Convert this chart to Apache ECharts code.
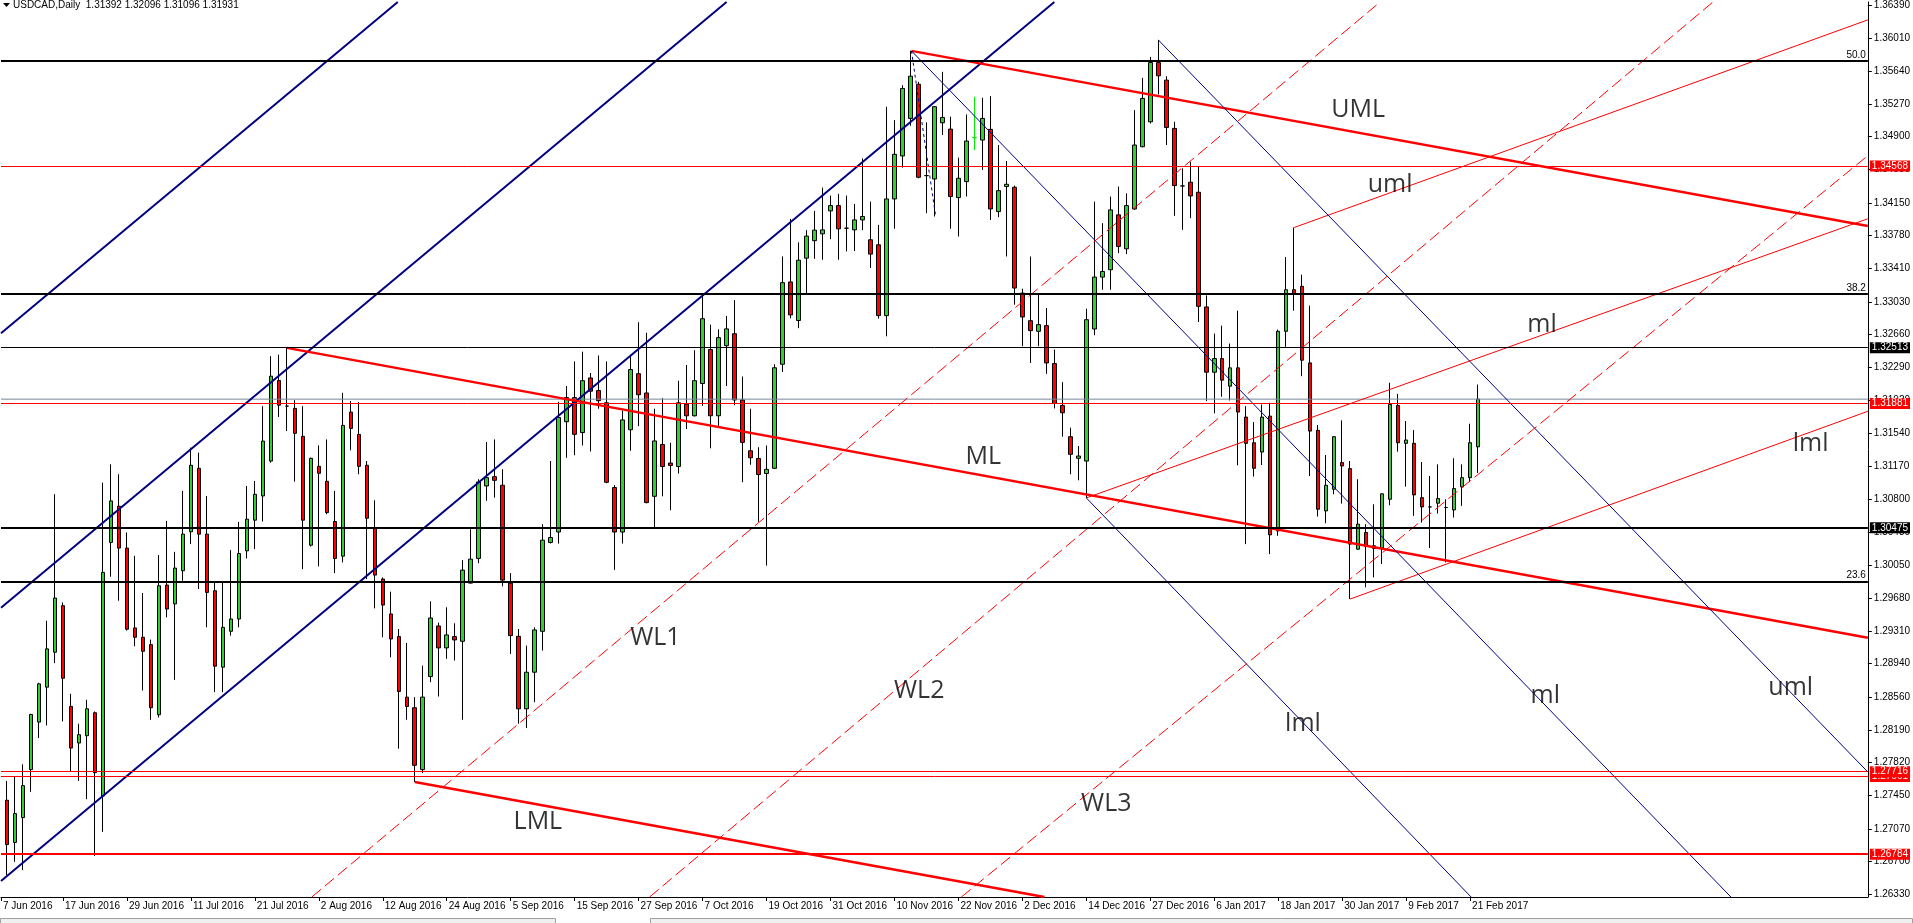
<!DOCTYPE html>
<html>
<head>
<meta charset="utf-8">
<title>USDCAD,Daily</title>
<script src="https://cdn.jsdelivr.net/npm/echarts@6/dist/echarts.min.js"></script>
<style>
  html, body { margin: 0; padding: 0; background: #fff; }
  #chart { width: 1913px; height: 923px; }
</style>
</head>
<body>
<div id="chart"></div>
<script>
// 日K线 [开, 高, 低, 收]，第 0 根 = 7 Jun 2016，每天一根
const candles = [
  [1.2818, 1.2830, 1.2725, 1.2739],
  [1.27394, 1.27612, 1.26547, 1.26893], [1.26916, 1.27657, 1.26697, 1.27243], [1.27198, 1.27800, 1.26603, 1.27559],
  [1.27740, 1.28372, 1.27488, 1.28364], [1.28278, 1.28722, 1.28097, 1.28710], [1.28673, 1.29425, 1.28240, 1.29106],
  [1.29068, 1.30855, 1.28944, 1.29681], [1.29595, 1.29632, 1.28285, 1.28774], [1.28455, 1.28598, 1.27713, 1.27984],
  [1.28041, 1.28259, 1.27612, 1.28135], [1.28124, 1.28530, 1.27405, 1.28428], [1.28383, 1.28398, 1.26765, 1.27706],
  [1.27442, 1.30987, 1.27036, 1.29971], [1.30310, 1.31194, 1.29922, 1.30780], [1.30720, 1.31081, 1.29651, 1.30246],
  [1.30246, 1.30423, 1.29313, 1.29328], [1.29343, 1.30159, 1.29136, 1.29237], [1.29237, 1.29738, 1.28635, 1.29079],
  [1.29154, 1.29211, 1.28304, 1.28440], [1.28361, 1.30167, 1.28330, 1.29820], [1.29828, 1.30554, 1.29463, 1.29557],
  [1.29614, 1.30204, 1.28756, 1.30020], [1.29990, 1.30893, 1.29877, 1.30404], [1.30430, 1.31382, 1.30291, 1.31183],
  [1.31149, 1.31326, 1.29783, 1.30404], [1.30404, 1.30836, 1.29350, 1.29745], [1.29764, 1.29858, 1.28616, 1.28910],
  [1.28899, 1.29858, 1.28616, 1.29350], [1.29305, 1.30223, 1.29256, 1.29444], [1.29444, 1.30543, 1.29350, 1.30185],
  [1.30215, 1.30949, 1.30129, 1.30573], [1.30562, 1.31006, 1.30234, 1.30855], [1.30836, 1.31852, 1.30547, 1.31457],
  [1.31231, 1.32417, 1.31212, 1.32191], [1.32142, 1.32435, 1.31728, 1.31863], [1.31852, 1.32511, 1.31570, 1.31852],
  [1.31826, 1.31920, 1.30998, 1.31544], [1.31510, 1.31852, 1.30008, 1.30562], [1.30279, 1.31269, 1.30264, 1.31262],
  [1.31171, 1.31408, 1.30039, 1.31092], [1.31002, 1.31476, 1.30629, 1.30648], [1.30547, 1.30893, 1.29963, 1.30129],
  [1.30155, 1.32003, 1.30084, 1.31634], [1.31785, 1.31909, 1.31352, 1.31600], [1.31532, 1.31897, 1.31081, 1.31171],
  [1.31183, 1.31231, 1.29896, 1.30584], [1.30468, 1.30787, 1.29564, 1.29941], [1.29896, 1.29914, 1.29237, 1.29602],
  [1.29501, 1.29753, 1.29011, 1.29218], [1.29245, 1.29331, 1.27977, 1.28624], [1.28560, 1.29173, 1.28304, 1.28454],
  [1.28440, 1.28560, 1.27600, 1.27789], [1.27740, 1.28917, 1.27702, 1.28560], [1.28793, 1.29644, 1.28729, 1.29455],
  [1.29365, 1.29403, 1.28567, 1.29117], [1.29117, 1.29576, 1.28993, 1.29264], [1.29245, 1.29395, 1.28974, 1.29207],
  [1.29192, 1.30110, 1.28304, 1.29997], [1.29850, 1.30460, 1.29847, 1.30121], [1.30129, 1.31025, 1.30076, 1.30994],
  [1.30949, 1.31446, 1.30780, 1.31043], [1.31054, 1.31476, 1.30817, 1.31013], [1.30957, 1.31137, 1.29813, 1.29884],
  [1.29850, 1.29963, 1.29049, 1.29256], [1.29248, 1.29331, 1.28259, 1.28428], [1.28428, 1.29143, 1.28210, 1.28842],
  [1.28842, 1.29350, 1.28503, 1.29320], [1.29305, 1.30516, 1.29087, 1.30336], [1.30310, 1.31231, 1.30298, 1.30366],
  [1.30428, 1.31902, 1.30297, 1.31724], [1.31676, 1.32080, 1.31268, 1.31949], [1.31949, 1.32358, 1.31296, 1.31533],
  [1.31553, 1.32468, 1.31407, 1.32140], [1.32171, 1.32227, 1.31339, 1.32021], [1.32029, 1.32425, 1.31823, 1.31914],
  [1.31890, 1.32358, 1.30980, 1.30991], [1.30931, 1.30959, 1.30000, 1.30428], [1.30428, 1.31803, 1.30297, 1.31696],
  [1.31585, 1.32417, 1.31347, 1.32266], [1.32219, 1.32801, 1.31625, 1.31981], [1.32001, 1.32682, 1.30753, 1.30761],
  [1.30832, 1.31823, 1.30476, 1.31458], [1.31418, 1.31941, 1.30832, 1.31169], [1.31208, 1.31438, 1.30674, 1.31181],
  [1.31169, 1.32140, 1.31090, 1.31890], [1.31874, 1.32318, 1.31593, 1.31743], [1.31743, 1.32484, 1.31735, 1.32140],
  [1.32108, 1.33118, 1.31854, 1.32841], [1.32492, 1.32774, 1.31375, 1.31743], [1.31743, 1.32722, 1.31625, 1.32627],
  [1.32536, 1.32873, 1.32080, 1.32726], [1.32671, 1.33051, 1.31862, 1.31922], [1.31922, 1.32187, 1.30991, 1.31442],
  [1.31347, 1.31823, 1.31189, 1.31268], [1.31260, 1.31387, 1.30543, 1.31078], [1.31090, 1.31407, 1.30048, 1.31137],
  [1.31149, 1.32326, 1.31140, 1.32286], [1.32326, 1.33546, 1.32239, 1.33249], [1.33257, 1.33970, 1.32845, 1.32884],
  [1.32821, 1.33705, 1.32734, 1.33503], [1.33526, 1.33843, 1.33130, 1.33776], [1.33724, 1.34061, 1.33518, 1.33843],
  [1.33801, 1.34324, 1.33508, 1.33846], [1.34061, 1.34234, 1.33741, 1.34121], [1.34121, 1.34253, 1.33508, 1.33858],
  [1.33865, 1.34234, 1.33602, 1.33865], [1.33846, 1.34140, 1.33606, 1.33959], [1.33959, 1.34655, 1.33843, 1.33997],
  [1.33734, 1.34166, 1.33414, 1.33572], [1.33677, 1.33903, 1.32842, 1.32876], [1.32876, 1.35239, 1.32642, 1.34196],
  [1.34196, 1.35088, 1.33858, 1.34701], [1.34682, 1.35483, 1.34550, 1.35446], [1.35107, 1.35871, 1.35024, 1.35585],
  [1.35494, 1.35521, 1.34430, 1.34441], [1.34460, 1.35062, 1.34035, 1.34460], [1.34422, 1.35246, 1.33997, 1.35240],
  [1.35058, 1.35634, 1.34919, 1.35118], [1.34986, 1.35126, 1.33858, 1.34223], [1.34211, 1.34663, 1.33771, 1.34430],
  [1.34392, 1.35152, 1.34223, 1.34851], [1.34889, 1.35352, 1.34749, 1.34889], [1.34862, 1.35340, 1.34524, 1.35107],
  [1.34983, 1.35359, 1.33959, 1.34083], [1.34053, 1.34806, 1.33990, 1.34290], [1.34336, 1.34625, 1.33545, 1.34362],
  [1.34328, 1.34347, 1.33000, 1.33188], [1.33131, 1.33180, 1.32530, 1.32861], [1.32819, 1.33545, 1.32341, 1.32706],
  [1.32699, 1.33113, 1.32530, 1.32774], [1.32763, 1.32962, 1.32217, 1.32341], [1.32334, 1.32492, 1.31826, 1.31882],
  [1.31860, 1.32123, 1.31506, 1.31777], [1.31506, 1.31608, 1.31081, 1.31307], [1.31262, 1.31401, 1.31013, 1.31288],
  [1.31231, 1.32955, 1.30814, 1.32830], [1.32725, 1.34166, 1.32654, 1.33312], [1.33312, 1.33922, 1.33169, 1.33376],
  [1.33395, 1.34223, 1.33169, 1.34072], [1.34016, 1.34336, 1.33583, 1.33658], [1.33632, 1.34260, 1.33572, 1.34121],
  [1.34083, 1.35201, 1.34072, 1.34806], [1.34787, 1.35566, 1.34780, 1.35333], [1.35069, 1.35803, 1.35050, 1.35739],
  [1.35739, 1.35995, 1.35378, 1.35589], [1.35540, 1.35585, 1.34806, 1.35005], [1.34994, 1.35069, 1.34005, 1.34347],
  [1.34343, 1.34543, 1.33846, 1.34343], [1.34385, 1.34618, 1.33978, 1.34230], [1.34272, 1.34561, 1.32804, 1.32981],
  [1.32974, 1.33105, 1.31909, 1.32236], [1.32236, 1.32673, 1.31770, 1.32390], [1.32390, 1.32763, 1.31958, 1.32146],
  [1.32078, 1.32560, 1.31916, 1.32285], [1.32285, 1.32932, 1.31183, 1.31785], [1.31728, 1.31852, 1.30291, 1.31431],
  [1.31438, 1.31672, 1.31055, 1.31149], [1.31333, 1.31871, 1.31186, 1.31728], [1.31739, 1.31890, 1.30178, 1.30396],
  [1.30441, 1.32718, 1.30385, 1.32699], [1.32699, 1.33538, 1.32522, 1.33169], [1.33169, 1.33873, 1.32932, 1.33120],
  [1.33207, 1.33339, 1.32191, 1.32372], [1.32341, 1.32989, 1.31062, 1.31570], [1.31578, 1.31638, 1.30603, 1.30686],
  [1.30667, 1.31299, 1.30528, 1.30957], [1.30912, 1.31514, 1.30855, 1.31506], [1.31213, 1.31691, 1.30750, 1.31175],
  [1.31145, 1.31231, 1.29670, 1.30291], [1.30234, 1.31025, 1.30227, 1.30517], [1.30423, 1.30517, 1.29802, 1.30264],
  [1.30272, 1.30742, 1.29915, 1.30242], [1.30246, 1.30863, 1.30065, 1.30860], [1.30799, 1.32116, 1.30731, 1.31871],
  [1.31860, 1.31991, 1.31337, 1.31438], [1.31431, 1.31683, 1.30942, 1.31469], [1.31431, 1.31581, 1.30611, 1.30848],
  [1.30817, 1.31220, 1.30535, 1.30712], [1.30712, 1.31062, 1.30246, 1.30712], [1.30754, 1.31194, 1.30637, 1.30806],
  [1.30705, 1.30799, 1.30084, 1.30705], [1.30678, 1.31262, 1.30592, 1.30919], [1.30938, 1.31194, 1.30724, 1.31043],
  [1.31043, 1.31653, 1.30994, 1.31438], [1.31392, 1.32096, 1.31096, 1.31931]
];
const limeBar = 122;   // 这根十字星是亮绿色的

// 底部日期，每 8 根一个
const dateLabels = ['7 Jun 2016', '17 Jun 2016', '29 Jun 2016', '11 Jul 2016', '21 Jul 2016', '2 Aug 2016',
  '12 Aug 2016', '24 Aug 2016', '5 Sep 2016', '15 Sep 2016', '27 Sep 2016', '7 Oct 2016', '19 Oct 2016',
  '31 Oct 2016', '10 Nov 2016', '22 Nov 2016', '2 Dec 2016', '14 Dec 2016', '27 Dec 2016', '6 Jan 2017',
  '18 Jan 2017', '30 Jan 2017', '9 Feb 2017', '21 Feb 2017'];
const labelStep = 8;

// 右侧价格刻度
const priceTicks = [1.36390, 1.36010, 1.35640, 1.35270, 1.34900, 1.34530, 1.34150, 1.33780, 1.33410, 1.33030,
  1.32660, 1.32290, 1.31920, 1.31540, 1.31170, 1.30800, 1.30430, 1.30050, 1.29680, 1.29310, 1.28940, 1.28560,
  1.28190, 1.27820, 1.27450, 1.27070, 1.26700, 1.26330];

// 水平线
const fibLevels = [1.35754, 1.33120, 1.29869];
const fibNames = ['50.0', '38.2', '23.6'];
const redThin = [1.34568, 1.31881, 1.27661, 1.27716];
const redThick = [1.26784];
const blackThin = [1.32513];
const blackThick = [1.30475];

// 斜线：[[K线序号, 价格], [K线序号, 价格]]
const channelLines = [
  [[0.25, 1.32676], [49.875, 1.36424]],
  [[0.25, 1.29572], [91, 1.36424]],
  [[0.25, 1.26479], [132, 1.36424]]
];
const forkRed = [      // ML / UML / LML
  [[36, 1.32511], [233.75, 1.29233]],
  [[114.125, 1.35871], [233.75, 1.33889]],
  [[52, 1.27600], [130.75, 1.26299]]
];
const forkRedSmall = [ // uml / ml / lml
  [[162, 1.33873], [233.75, 1.36222]],
  [[136, 1.30814], [233.75, 1.33972]],
  [[169, 1.29670], [233.75, 1.31794]]
];
const forkBlue = [     // uml / ml / lml
  [[145, 1.35995], [233.75, 1.27713]],
  [[114.125, 1.35871], [216.625, 1.26299]],
  [[136, 1.30814], [184.125, 1.26299]]
];
const warnLines = [    // WL1 / WL2 / WL3
  [[39.125, 1.26299], [172.75, 1.36424]],
  [[81.375, 1.26299], [214.375, 1.36424]],
  [[120.375, 1.26299], [233.75, 1.34686]]
];
const fibDiagonal = [[114.125, 1.35871], [117.125, 1.34020]];

// 文字标注 [文字, K线序号, 价格]
const notes = [
  ['UML', 170, 1.35205], ['uml', 174, 1.34358], ['ml', 193, 1.32767], ['lml', 226.6, 1.31423],
  ['ML', 123.1, 1.31277], ['WL1', 82.1, 1.29233], ['WL2', 115.1, 1.28635], ['WL3', 138.5, 1.27348],
  ['LML', 67.4, 1.27145], ['lml', 163.1, 1.28263], ['ml', 193.4, 1.28579], ['uml', 224.1, 1.28669]
];

const xMin = 0.25, xMax = 233.75;
const yMin = 1.26299, yMax = 1.36424;
const axisFont = 'Liberation Sans, Arial, sans-serif';

let myChart = echarts.init(document.getElementById('chart'));

function seg(points, color, width, type) {
  return {
    type: 'line',
    data: points,
    symbol: 'none',
    silent: true,
    clip: true,
    z: 3,
    lineStyle: { color: color, width: width, type: type || 'solid' }
  };
}

function tag(v, color, width) {
  return {
    yAxis: v,
    lineStyle: { color: color, width: width, type: 'solid' },
    label: {
      show: true, position: 'end', distance: 2, formatter: v.toFixed(5),
      color: '#fff', backgroundColor: color, padding: [1, 2, 0, 2],
      fontSize: 10, fontFamily: axisFont
    }
  };
}

let last = candles[candles.length - 1];
let bid = last[3];

let levelData = [];
fibLevels.forEach((v, k) => {
  levelData.push({
    yAxis: v,
    lineStyle: { color: '#000', width: 2, type: 'solid' },
    label: {
      show: true, position: 'insideEndTop', distance: 1, formatter: fibNames[k],
      color: '#000', fontSize: 10, fontFamily: axisFont, padding: [0, 1, 0, 0]
    }
  });
});
redThin.forEach(v => levelData.push(tag(v, '#ff0000', 1)));
redThick.forEach(v => levelData.push(tag(v, '#ff0000', 2)));
blackThin.forEach(v => levelData.push(tag(v, '#000000', 1)));
blackThick.forEach(v => levelData.push(tag(v, '#000000', 2)));

let kData = candles.map((c, i) => {
  let item = { value: [i, c[0], c[3], c[2], c[1]] };
  if (i === limeBar) {
    item.itemStyle = { borderColor: '#00ee00', borderColor0: '#00ee00', borderColorDoji: '#00ee00' };
  }
  return item;
});

let series = [
  {
    type: 'candlestick',
    data: kData,
    encode: { x: 0, y: [1, 2, 3, 4] },
    barWidth: 4,
    z: 2,
    silent: true,
    itemStyle: {
      color: '#32cd32', color0: '#ff0000',
      borderColor: '#000', borderColor0: '#000', borderColorDoji: '#000', borderWidth: 1
    }
  },
  // 买价线 + 所有水平线
  Object.assign(seg([[xMin, bid], [xMax, bid]], '#778899', 1), {
    markLine: { symbol: 'none', silent: true, animation: false, precision: 5, data: levelData }
  })
];
channelLines.forEach(l => series.push(seg(l, '#000080', 2)));
forkRed.forEach(l => series.push(seg(l, '#ff0000', 2.5)));
forkRedSmall.forEach(l => series.push(seg(l, '#ff0000', 1)));
forkBlue.forEach(l => series.push(seg(l, '#000080', 1)));
warnLines.forEach(l => series.push(seg(l, '#ff0000', 1, [12, 5])));
series.push(seg(fibDiagonal, '#000080', 1, [3, 3]));
series.push({
  type: 'scatter',
  data: notes.map(n => ({ name: n[0], value: [n[1], n[2]] })),
  symbolSize: 1,
  itemStyle: { color: 'transparent' },
  silent: true,
  z: 5,
  label: {
    show: true, position: 'inside', formatter: '{b}',
    fontSize: 25, fontFamily: 'Open Sans', color: '#000'
  }
});

let option = {
  animation: false,
  backgroundColor: '#fff',
  grid: { left: 0, right: 45, top: 0, bottom: 26 },
  xAxis: {
    type: 'value',
    min: xMin,
    max: xMax,
    splitLine: { show: false },
    axisLine: { onZero: false, lineStyle: { color: '#000', width: 1 } },
    axisTick: {
      length: 4,
      lineStyle: { color: '#000' },
      customValues: dateLabels.map((d, k) => Math.max(k * labelStep, xMin))
    },
    axisLabel: {
      customValues: dateLabels.map((d, k) => Math.max(k * labelStep, xMin)),
      formatter: v => dateLabels[Math.round(v / labelStep)],
      align: 'left',
      margin: 4,
      padding: [0, 0, 0, 2],
      color: '#000',
      fontSize: 10,
      fontFamily: axisFont
    }
  },
  yAxis: {
    type: 'value',
    position: 'right',
    min: yMin,
    max: yMax,
    scale: true,
    splitLine: { show: false },
    axisLine: { show: true, onZero: false, lineStyle: { color: '#000', width: 1 } },
    axisTick: { show: true, length: 4, lineStyle: { color: '#000' }, customValues: priceTicks },
    axisLabel: {
      customValues: priceTicks,
      formatter: v => v.toFixed(5),
      margin: 6,
      color: '#000',
      fontSize: 10,
      fontFamily: axisFont
    }
  },
  graphic: [
    { type: 'polygon', shape: { points: [[3, 3], [10, 3], [6.5, 7]] }, style: { fill: '#000' } },
    {
      type: 'text', x: 13, y: 0,
      style: {
        text: 'USDCAD,Daily  ' + last[0].toFixed(5) + ' ' + last[1].toFixed(5) + ' ' + last[2].toFixed(5) + ' ' + last[3].toFixed(5),
        font: '10px Liberation Sans', fill: '#000'
      }
    },
    { type: 'rect', shape: { x: 0.5, y: 918.5, width: 555, height: 8 }, style: { fill: '#f0f0f0', stroke: '#a0a0a0' } },
    { type: 'rect', shape: { x: 650.5, y: 918.5, width: 1262, height: 8 }, style: { fill: '#f0f0f0', stroke: '#a0a0a0' } }
  ],
  series: series
};
// 把配置给实例对象
myChart.setOption(option);
</script>
</body>
</html>
